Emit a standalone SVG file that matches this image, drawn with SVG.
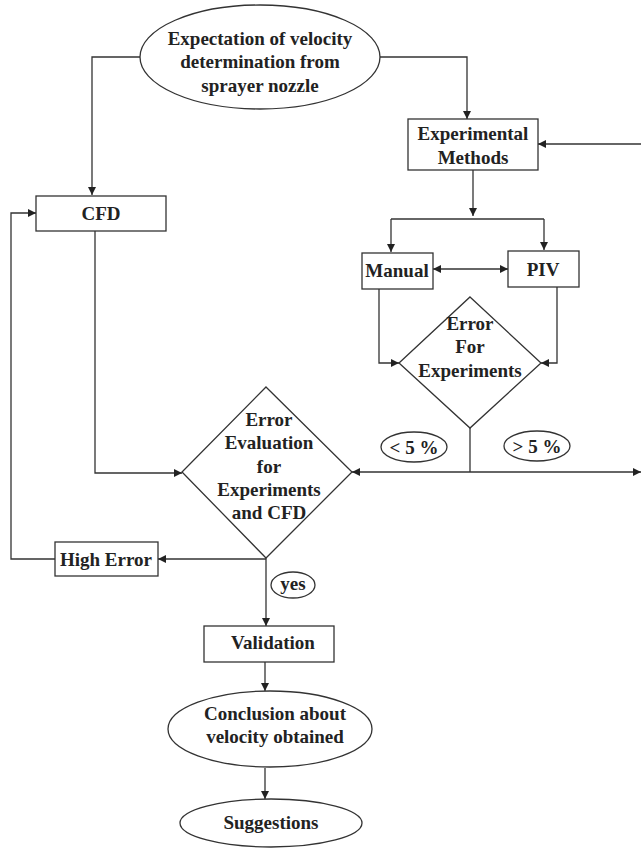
<svg xmlns="http://www.w3.org/2000/svg" width="641" height="849" viewBox="0 0 641 849">
<defs>
<marker id="ah" viewBox="0 0 10 10" refX="10" refY="5" markerWidth="8" markerHeight="8" markerUnits="userSpaceOnUse" orient="auto-start-reverse">
<path d="M0,0 L10,5 L0,10 z" fill="#222"/>
</marker>
</defs>
<style>
.s{fill:#fff;stroke:#333;stroke-width:1.3}
.t{font-family:"Liberation Serif","Times New Roman",serif;font-weight:bold;font-size:19px;fill:#222;text-anchor:middle}
.c{fill:none;stroke:#333;stroke-width:1.3}
.a{marker-end:url(#ah)}
</style>
<rect width="641" height="849" fill="#fff"/>
<g id="connectors">
<path class="c a" d="M140,57 H92 V195"/>
<path class="c a" d="M379,57 H467 V119"/>
<path class="c a" d="M641,144 H538"/>
<path class="c a" d="M473,170 V216"/>
<path class="c" d="M391,219 H544"/>
<path class="c a" d="M391,219 V252"/>
<path class="c a" d="M544,219 V250"/>
<path class="c a" d="M433,269 H508" style="marker-start:url(#ah)"/>
<path class="c a" d="M379,289 V363 H399"/>
<path class="c a" d="M557,287 V363 H541"/>
<path class="c" d="M470,428 V472"/>
<path class="c a" d="M470,472 H352"/>
<path class="c a" d="M470,472 H641"/>
<path class="c a" d="M95,231 V473 H182"/>
<path class="c a" d="M266,559 H158"/>
<path class="c a" d="M55,559 H11 V213 H36"/>
<path class="c a" d="M266,558 V626"/>
<path class="c a" d="M265,662 V691"/>
<path class="c a" d="M265,768 V799"/>
</g>
<g id="start">
<ellipse class="s" cx="260" cy="57" rx="120" ry="52"/>
<text class="t" x="260" y="45">Expectation of velocity</text>
<text class="t" x="260" y="68">determination from</text>
<text class="t" x="260" y="92">sprayer nozzle</text>
</g>
<g id="experimental">
<rect class="s" x="408" y="119" width="130" height="51"/>
<text class="t" x="473" y="140">Experimental</text>
<text class="t" x="473" y="164">Methods</text>
</g>
<g id="cfd">
<rect class="s" x="36" y="196" width="130" height="35"/>
<text class="t" x="101" y="220">CFD</text>
</g>
<g id="manual">
<rect class="s" x="362" y="253" width="71" height="36"/>
<text class="t" x="397" y="277">Manual</text>
</g>
<g id="piv">
<rect class="s" x="508" y="251" width="71" height="36"/>
<text class="t" x="543" y="276">PIV</text>
</g>
<g id="error-exp">
<path class="s" d="M470,297 L541,363 L470,428 L399,363 z"/>
<text class="t" x="470" y="330">Error</text>
<text class="t" x="470" y="353">For</text>
<text class="t" x="470" y="377">Experiments</text>
</g>
<g id="lt5">
<ellipse class="s" cx="414" cy="447" rx="33" ry="15"/>
<text class="t" x="414" y="454">&lt; 5 %</text>
</g>
<g id="gt5">
<ellipse class="s" cx="537" cy="446" rx="33" ry="15"/>
<text class="t" x="537" y="453">&gt; 5 %</text>
</g>
<g id="error-eval">
<path class="s" d="M266,387 L352,472 L266,558 L182,472 z"/>
<text class="t" x="269" y="426">Error</text>
<text class="t" x="269" y="449">Evaluation</text>
<text class="t" x="269" y="473">for</text>
<text class="t" x="269" y="496">Experiments</text>
<text class="t" x="269" y="519">and CFD</text>
</g>
<g id="high-error">
<rect class="s" x="55" y="542" width="103" height="34"/>
<text class="t" x="106" y="566">High Error</text>
</g>
<g id="yes">
<ellipse class="s" cx="293" cy="585" rx="22" ry="13"/>
<text class="t" x="293" y="590">yes</text>
</g>
<g id="validation">
<rect class="s" x="204" y="626" width="130" height="36"/>
<text class="t" x="273" y="649">Validation</text>
</g>
<g id="conclusion">
<ellipse class="s" cx="270" cy="729" rx="102" ry="38"/>
<text class="t" x="275" y="720">Conclusion about</text>
<text class="t" x="275" y="743">velocity obtained</text>
</g>
<g id="suggestions">
<ellipse class="s" cx="271" cy="823" rx="91" ry="24"/>
<text class="t" x="271" y="829">Suggestions</text>
</g>
</svg>
